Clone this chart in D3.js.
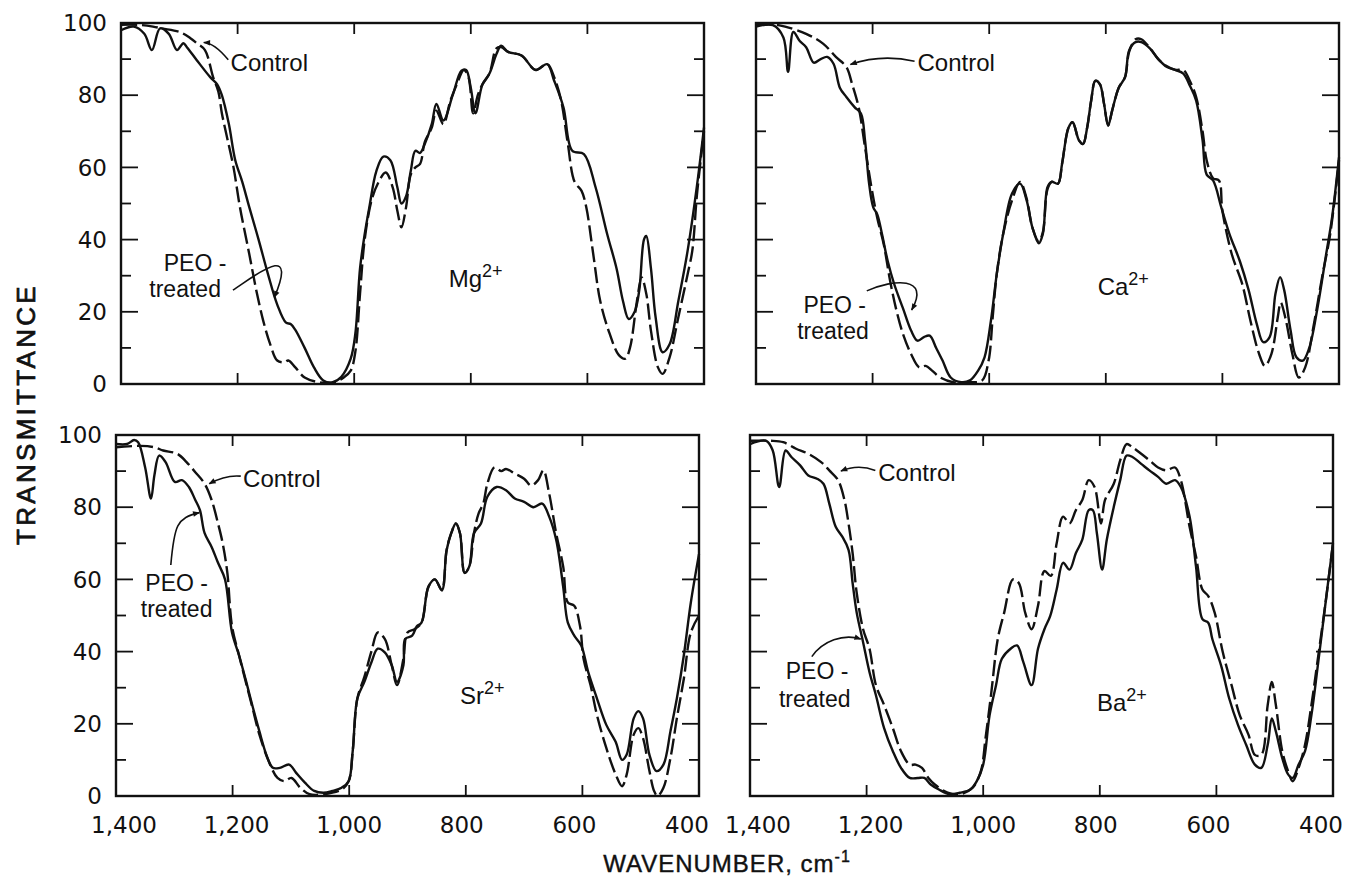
<!DOCTYPE html>
<html>
<head>
<meta charset="utf-8">
<script src="https://cdn.jsdelivr.net/npm/d3@7"></script>
<style>
  body { margin: 0; background: #fff; }
  svg { display: block; }
</style>
</head>
<body>
<div id="chart"></div>
<script>
// tick values
const wavenumberTicks = [1400, 1200, 1000, 800, 600, 400];
const transmittanceTicks = [0, 20, 40, 60, 80, 100];
const minorTicks = [10, 20, 30, 40, 50, 60, 70, 80, 90];

// spectra, [wavenumber cm-1, transmittance %]
// solid = PEO-treated, dashed = control
const mgTreated = [[1400,98],[1378,99],[1360,97],[1347,92.5],[1333,98.5],[1318,97],[1304,92.5],[1293,94.4],[1287,93.3],[1270,89.7],[1247,85],[1235,83],[1227,80],[1215,72],[1204,62],[1192,56],[1180,49],[1164,40],[1148,30.5],[1132,22],[1117,17],[1109,16.6],[1101,15],[1085,10],[1069,4.6],[1053,1],[1037,0.5],[1022,2],[1006,7],[998,14],[990,32],[982,41.5],[974,49],[962,59],[950,63],[938,62],[926,54.5],[919,50],[911,52],[903,59],[895,64.6],[887,64],[879,66.5],[867,72],[859,77.6],[847,73],[831,80],[816,86.8],[808,87],[800,82],[792,75],[780,83],[768,86],[756,91.4],[748,93.7],[736,92],[713,91],[689,87],[669,88.6],[657,84],[641,76.6],[626,64.6],[606,63.7],[586,54.5],[566,41.5],[550,32],[539,23],[529,18],[519,20],[511,26],[503,40],[499,41],[491,32],[483,18.5],[471,8.8],[459,11],[444,23],[428,37],[412,55],[400,71]];
const mgControl = [[1400,99.5],[1370,99.5],[1345,99],[1330,98.5],[1299,97.5],[1281,95.8],[1270,94.4],[1256,92.5],[1242,85],[1233,81],[1227,75],[1219,69],[1207,60],[1196,49],[1180,36],[1168,26],[1156,17.5],[1144,11],[1132,6.5],[1120,6],[1113,6.5],[1101,4.6],[1085,1.8],[1061,0.5],[1037,0.3],[1018,1.8],[1006,3.7],[998,9],[990,25],[982,40],[970,51],[958,56],[946,58.6],[934,54.5],[926,48],[919,43.4],[911,49],[903,58],[895,60],[887,61],[879,67],[867,71],[859,75.7],[847,72],[835,78.5],[824,83],[812,87],[804,85],[796,75],[788,80],[780,83],[768,86],[756,93],[748,93.3],[736,92],[713,91],[689,87],[669,88.6],[657,85],[645,78.5],[634,67],[622,56],[610,53.5],[602,49],[590,36],[578,23],[562,14],[546,8],[535,7],[527,10],[515,23],[507,29.5],[499,25],[491,14.8],[479,4.6],[471,2.8],[459,7.4],[444,18.5],[428,30.5],[420,37],[412,52.6],[400,70]];

const caTreated = [[1400,99],[1371,99.4],[1353,96],[1345,86.5],[1336,97.5],[1325,95],[1314,93.3],[1301,89],[1289,90],[1278,90.6],[1267,88.7],[1256,82],[1245,79.5],[1231,76.7],[1220,74.9],[1213,67.5],[1206,55.5],[1199,49],[1192,47],[1184,41.6],[1174,34],[1163,27.7],[1148,21],[1134,14.8],[1123,12],[1112,13],[1102,13.4],[1091,10],[1080,6.5],[1066,1.8],[1048,0.5],[1033,1],[1019,3.7],[1008,7.4],[997,17.6],[987,30.5],[976,41.6],[961,52.7],[947,55.5],[936,51],[926,43.4],[915,39],[908,41.6],[900,54.5],[893,56],[882,55.5],[875,61],[864,71],[857,72.5],[846,67.5],[839,66.5],[832,71],[825,78.6],[818,84],[810,83],[803,77.6],[796,71.6],[789,75.8],[778,82],[767,85],[760,92.4],[749,94.7],[739,94.7],[724,92.9],[710,90],[695,87.8],[681,87],[667,86],[656,82.7],[645,78.5],[634,67.5],[627,58],[616,56.4],[602,49],[588,41.6],[570,34],[555,26],[541,16.6],[530,11.6],[519,13],[509,25],[501,29.6],[494,26],[483,14.8],[473,7.4],[462,6.5],[451,10],[437,21],[422,36],[412,46],[400,62.8]];
const caControl = [[1400,99.4],[1371,99.6],[1350,99],[1314,97],[1285,94.3],[1263,90.6],[1245,87.8],[1235,83],[1224,76.7],[1213,65.6],[1202,54.5],[1192,46],[1181,38.8],[1170,28.6],[1159,20.3],[1148,13.9],[1134,8.3],[1120,4.6],[1109,5],[1098,3.7],[1084,1.8],[1062,0.5],[1033,0.5],[1012,1],[1001,6.5],[994,18.5],[987,30.5],[976,41.6],[961,50.8],[947,56],[936,51.5],[926,43.4],[915,39.5],[908,42],[900,54],[893,56],[882,55.5],[875,61],[864,71],[857,72.5],[846,67.5],[839,66.5],[832,71],[825,78.6],[818,84],[810,83],[803,77.6],[796,71.6],[789,75.8],[778,82],[767,85],[760,92],[749,95.5],[739,95.5],[724,93],[710,90],[695,88],[681,87],[667,87],[656,84],[645,79.5],[634,70],[627,62],[616,57],[606,56.4],[600,48],[584,36],[566,27.7],[552,17.6],[537,8.3],[527,5],[516,8.3],[505,18.5],[500,22.6],[491,17.6],[480,8.3],[469,1.8],[458,4.6],[444,15.7],[429,29.6],[415,41.6],[400,62]];

const srTreated = [[1400,97.5],[1381,97.5],[1369,98.6],[1362,98],[1350,91],[1340,82.4],[1334,89],[1326,94.3],[1315,92.5],[1299,87],[1287,87.5],[1275,85.6],[1264,82],[1256,79.2],[1248,72.8],[1236,69],[1225,64.6],[1213,60],[1201,45.3],[1189,39],[1178,32.5],[1166,25],[1154,17.9],[1142,11.4],[1131,7.8],[1119,7.8],[1103,8.7],[1091,6.4],[1076,3.7],[1060,1.4],[1044,0.9],[1029,1.4],[1013,2.3],[1001,4.1],[994,12.4],[986,27],[974,31.6],[962,37],[951,40.8],[939,39.8],[927,36.2],[918,31.6],[907,36.2],[904,43.5],[892,44.4],[884,47],[876,48],[864,58],[853,60],[841,57],[833,68],[825,72.8],[817,75.5],[810,72.8],[802,61.8],[794,63.6],[786,72.8],[774,75.5],[763,82.9],[747,85.6],[731,84.7],[716,82.4],[700,81.5],[684,80],[669,81],[657,77.4],[645,71],[633,58],[625,48],[614,44.4],[602,41.7],[590,34.3],[575,27],[559,19.7],[543,15],[532,10],[524,11.5],[512,21.5],[504,23.5],[496,21.5],[485,11.4],[473,6.9],[461,8.7],[449,17.9],[438,27],[426,39],[414,53.6],[400,67]];
const srControl = [[1400,96.6],[1358,97],[1334,96.6],[1319,95.7],[1295,94.8],[1279,92.5],[1264,89.7],[1248,86.5],[1236,82],[1225,75.5],[1217,70],[1209,61.8],[1201,47],[1189,39],[1178,32],[1166,24.5],[1154,17],[1138,9.6],[1123,5],[1111,4.1],[1099,5],[1084,2.3],[1068,0.5],[1044,0.5],[1013,1.8],[1001,4.1],[994,12.4],[986,27],[974,33],[962,40],[951,45.3],[939,43.5],[927,36.2],[918,30.7],[907,38],[900,45.3],[888,46.2],[876,48],[864,58],[853,60],[841,57],[833,68],[825,72.8],[817,75.5],[810,72.8],[802,61.8],[794,63.6],[786,72.8],[778,78.3],[770,81],[763,86.5],[751,91],[739,90],[731,90.6],[716,89.3],[700,87.9],[688,86],[676,87.5],[667,90.2],[657,83.8],[645,72.8],[633,63.6],[625,53.6],[614,52.7],[604,47],[598,38],[586,30.7],[575,22.4],[559,13.3],[543,6],[532,2.7],[524,6],[512,17],[504,18.8],[496,16],[485,6.9],[477,1.4],[471,0],[461,2.3],[449,10.5],[438,21.5],[426,32.5],[414,45.3],[400,50]];

const baTreated = [[1400,97.5],[1372,98.4],[1361,95.7],[1350,85.6],[1339,95.7],[1329,93.9],[1314,91.6],[1300,88.8],[1285,87.9],[1274,86.5],[1264,81],[1253,74.6],[1242,71.9],[1231,68.2],[1224,59],[1217,50.8],[1206,42.6],[1195,34.3],[1184,27.9],[1170,18.8],[1155,12.4],[1141,7.8],[1126,5],[1112,5],[1101,5],[1090,3.2],[1076,1.8],[1058,0.5],[1040,0.9],[1022,1.8],[1011,4.1],[1000,8.7],[989,22.4],[978,30.7],[968,38],[953,40.8],[942,41.7],[931,37],[917,30.7],[906,40.8],[895,46.2],[885,49.9],[874,57.2],[863,64.6],[852,62.7],[841,67.3],[830,71],[819,79.2],[812,79.2],[805,72.8],[796,62.7],[788,71],[776,80.1],[765,87.5],[754,94.3],[744,93.9],[729,92],[715,90.2],[700,88.4],[686,86.5],[671,87.5],[661,85.6],[646,77.4],[635,63.6],[624,49],[614,48],[607,43.5],[592,36.2],[578,27],[563,19.7],[549,14.2],[534,8.7],[523,7.8],[512,14.2],[505,21.5],[498,17.9],[487,10.5],[477,6],[469,5],[459,8.7],[448,12.4],[437,22.4],[426,36.2],[412,54.5],[400,70]];
const baControl = [[1400,98.4],[1365,98.4],[1343,98],[1321,96.2],[1300,94.8],[1278,92.5],[1264,90.2],[1249,87.5],[1238,82],[1231,75.5],[1224,67.3],[1217,56.3],[1206,46.2],[1195,40.8],[1184,30.7],[1170,25.2],[1155,18.8],[1141,12.4],[1126,8.7],[1116,8.7],[1105,7.8],[1094,5],[1083,3.2],[1061,0.9],[1040,0.5],[1018,2.3],[1004,6.9],[996,16],[986,28.8],[975,43.5],[964,50.8],[949,60],[939,59],[928,50.8],[917,46.2],[906,52.7],[895,62.3],[884,61],[874,70],[863,77.4],[852,75.5],[841,79.2],[830,82],[819,87.5],[809,85.6],[798,75.5],[791,82],[776,86.5],[765,93],[754,97.5],[744,96.6],[729,94.8],[715,93],[700,91],[686,90.2],[671,91],[661,87.5],[646,74.6],[635,66.4],[624,57.2],[614,55.4],[603,50.8],[589,39.8],[574,30.7],[560,22.4],[545,17],[534,11.4],[523,11.4],[512,25.2],[505,31.6],[498,25.2],[487,12.4],[477,6.9],[469,4.1],[459,7.8],[448,14.2],[437,25.2],[426,38],[412,54.5],[400,70]];

const width = 1357, height = 879;
const panelW = 583, panelH = 361;
const ink = "#111";

// layout + annotation anchors (in data units) per panel
const panels = [
  { ion: "Mg", treated: mgTreated, control: mgControl, left: 121, top: 23, yLabels: true, xLabels: false,
    ctrlText: [1212, 86.6], ctrlArrow: [[1216, 89.8], [1240, 94.5], [1258, 94.6]],
    peoText: [1273, 31.2, 1290, 24.0], peoArrow: [[1208, 26], [1170, 30], [1095, 40], [1137, 24]],
    ionText: [838, 27] },
  { ion: "Ca", treated: caTreated, control: caControl, left: 756, top: 23, yLabels: false, xLabels: false,
    ctrlText: [1123, 86.6], ctrlArrow: [[1128, 89.4], [1185, 91.5], [1238, 88.5]],
    peoText: [1265, 19.6, 1268, 12.4], peoArrow: [[1210, 25.8], [1165, 29], [1100, 30], [1133, 20.5]],
    ionText: [814, 24.6] },
  { ion: "Sr", treated: srTreated, control: srControl, left: 116, top: 435, yLabels: true, xLabels: true,
    ctrlText: [1182, 85.6], ctrlArrow: [[1186, 88.6], [1212, 89], [1240, 86.5]],
    peoText: [1296, 56.8, 1296, 49.6], peoArrow: [[1306, 64], [1300, 75], [1296, 77], [1257, 78.5]],
    ionText: [810, 25.6] },
  { ion: "Ba", treated: baTreated, control: baControl, left: 750, top: 435, yLabels: false, xLabels: true,
    ctrlText: [1180, 87.3], ctrlArrow: [[1185, 90.2], [1215, 92], [1244, 90]],
    peoText: [1285, 32.4, 1289, 24.6], peoArrow: [[1294, 38.6], [1275, 43], [1240, 45], [1210, 43.5]],
    ionText: [805, 23.6] }
];

const svg = d3.select("#chart").append("svg")
  .attr("width", width)
  .attr("height", height)
  .attr("viewBox", [0, 0, width, height]);

svg.append("rect").attr("width", width).attr("height", height).attr("fill", "#fff");

svg.append("defs").append("marker")
  .attr("id", "head")
  .attr("viewBox", "0 0 10 10")
  .attr("refX", 9).attr("refY", 5)
  .attr("markerWidth", 9).attr("markerHeight", 7)
  .attr("markerUnits", "userSpaceOnUse")
  .attr("orient", "auto")
  .append("path")
  .attr("d", "M0,1 L10,5 L0,9 Z")
  .attr("fill", ink);

const numFmt = d3.format(",");

panels.forEach(p => {
  const x = d3.scaleLinear().domain([1400, 400]).range([0, panelW]);
  const y = d3.scaleLinear().domain([0, 100]).range([panelH, 0]);

  const g = svg.append("g").attr("transform", `translate(${p.left},${p.top})`);

  // frame
  g.append("rect")
    .attr("width", panelW).attr("height", panelH)
    .attr("fill", "none").attr("stroke", ink).attr("stroke-width", 2.4);

  // inward y ticks, both sides
  [[0, 1], [panelW, -1]].forEach(([x0, dir]) => {
    g.selectAll(null)
      .data(minorTicks)
      .join("line")
      .attr("x1", x0)
      .attr("x2", d => x0 + dir * (d % 20 === 0 ? 17 : 10))
      .attr("y1", d => y(d)).attr("y2", d => y(d))
      .attr("stroke", ink).attr("stroke-width", 1.8);
  });

  // inward x ticks, top and bottom
  const innerX = wavenumberTicks.slice(1, -1);
  [[0, 1], [panelH, -1]].forEach(([y0, dir]) => {
    g.selectAll(null)
      .data(innerX)
      .join("line")
      .attr("x1", d => x(d)).attr("x2", d => x(d))
      .attr("y1", y0).attr("y2", y0 + dir * 11)
      .attr("stroke", ink).attr("stroke-width", 1.8);
  });

  if (p.yLabels) {
    g.selectAll(null)
      .data(transmittanceTicks)
      .join("text")
      .attr("x", -14)
      .attr("y", d => y(d))
      .attr("dy", "0.36em")
      .attr("text-anchor", "end")
      .attr("font-family", "DejaVu Sans, sans-serif")
      .attr("font-size", 23)
      .attr("fill", ink)
      .text(d => d);
  }

  if (p.xLabels) {
    // labels sit a little inward of the end ticks, as in the print
    g.selectAll(null)
      .data(wavenumberTicks)
      .join("text")
      .attr("x", (d, i) => x(d) + 8 - 4 * i)
      .attr("y", panelH + 37)
      .attr("text-anchor", "middle")
      .attr("font-family", "DejaVu Sans, sans-serif")
      .attr("font-size", 23)
      .attr("fill", ink)
      .text(d => numFmt(d));
  }

  const line = d3.line()
    .x(d => x(d[0]))
    .y(d => y(d[1]))
    .curve(d3.curveCatmullRom.alpha(0.5));

  g.append("path")
    .datum(p.control)
    .attr("d", line)
    .attr("fill", "none")
    .attr("stroke", ink)
    .attr("stroke-width", 2.4)
    .attr("stroke-dasharray", "16,5");

  g.append("path")
    .datum(p.treated)
    .attr("d", line)
    .attr("fill", "none")
    .attr("stroke", ink)
    .attr("stroke-width", 2.4);

  const label = (tx, ty, str, anchor, size) => g.append("text")
    .attr("x", tx).attr("y", ty)
    .attr("text-anchor", anchor || "start")
    .attr("font-family", "Liberation Sans, Arial, sans-serif")
    .attr("font-size", size || 24)
    .attr("fill", ink)
    .text(str);

  // Control note
  label(x(p.ctrlText[0]), y(p.ctrlText[1]), "Control");
  const ca = p.ctrlArrow.map(d => [x(d[0]), y(d[1])]);
  g.append("path")
    .attr("d", `M${ca[0]} Q${ca[1]} ${ca[2]}`)
    .attr("fill", "none").attr("stroke", ink).attr("stroke-width", 1.6)
    .attr("marker-end", "url(#head)");

  // PEO-treated note
  label(x(p.peoText[0]), y(p.peoText[1]), "PEO -", "middle", 23);
  label(x(p.peoText[2]), y(p.peoText[3]), "treated", "middle", 23);
  const pa = p.peoArrow.map(d => [x(d[0]), y(d[1])]);
  g.append("path")
    .attr("d", `M${pa[0]} C${pa[1]} ${pa[2]} ${pa[3]}`)
    .attr("fill", "none").attr("stroke", ink).attr("stroke-width", 1.6)
    .attr("marker-end", "url(#head)");

  // ion label with superscript charge
  const ionLabel = g.append("text")
    .attr("x", x(p.ionText[0])).attr("y", y(p.ionText[1]))
    .attr("font-family", "Liberation Sans, Arial, sans-serif")
    .attr("font-size", 24)
    .attr("fill", ink);
  ionLabel.append("tspan").text(p.ion);
  ionLabel.append("tspan").attr("dy", -10).attr("font-size", 18).text("2+");
});

// axis titles
svg.append("text")
  .attr("transform", "translate(35,414) rotate(-90)")
  .attr("text-anchor", "middle")
  .attr("font-family", "Liberation Sans, Arial, sans-serif")
  .attr("font-size", 26)
  .attr("letter-spacing", 3.3)
  .attr("fill", ink)
  .attr("stroke", ink)
  .attr("stroke-width", 0.7)
  .text("TRANSMITTANCE");

const xTitle = svg.append("text")
  .attr("x", 727).attr("y", 872)
  .attr("text-anchor", "middle")
  .attr("font-family", "Liberation Sans, Arial, sans-serif")
  .attr("font-size", 24)
  .attr("letter-spacing", 1)
  .attr("fill", ink)
  .attr("stroke", ink)
  .attr("stroke-width", 0.4);
xTitle.append("tspan").text("WAVENUMBER, cm");
xTitle.append("tspan").attr("dy", -10).attr("font-size", 16).text("-1");
</script>
</body>
</html>
